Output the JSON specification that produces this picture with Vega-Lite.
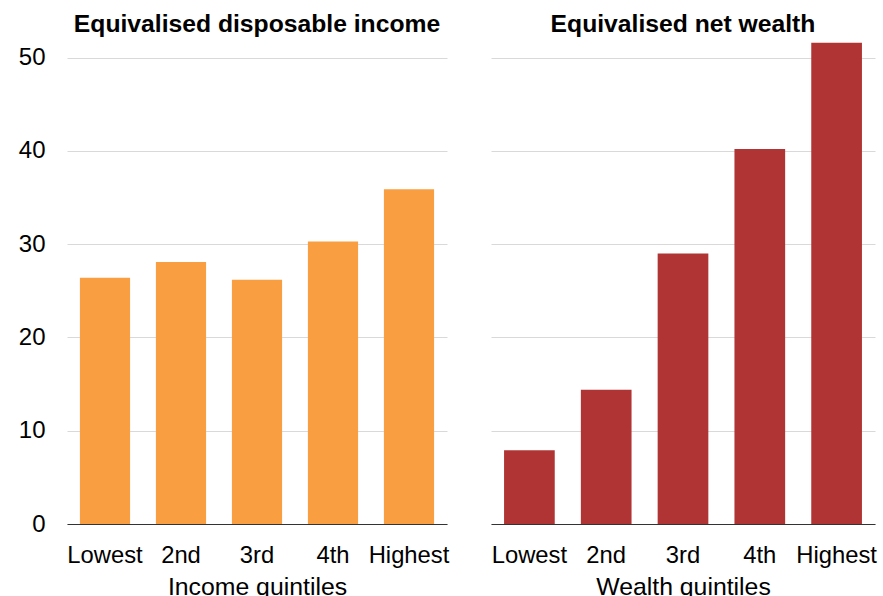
{
  "$schema": "https://vega.github.io/schema/vega-lite/v6.json",
  "background": "white",
  "padding": {"left": 18, "top": 12, "right": 5, "bottom": 0},
  "spacing": 44,
  "bounds": "flush",
  "config": {
    "font": "Liberation Sans",
    "view": {"stroke": null},
    "title": {"fontSize": 24.7, "fontWeight": "bold", "color": "#000000", "font": "Liberation Sans", "baseline": "alphabetic", "offset": 2},
    "axisX": {
      "labelFontSize": 23.8, "labelColor": "#000000", "labelAngle": 0, "labelPadding": 19,
      "domainColor": "#333333", "domainWidth": 1, "ticks": false, "grid": false,
      "titleFontSize": 24.8, "titleFontWeight": "normal", "titleColor": "#000000", "titlePadding": 8
    },
    "axisY": {
      "labelFontSize": 24, "labelColor": "#000000", "labelPadding": 22,
      "domain": false, "ticks": false, "grid": true, "gridColor": "#d9d9d9", "gridWidth": 1,
      "title": null
    }
  },
  "hconcat": [
    {
      "title": "Equivalised disposable income",
      "width": 380,
      "height": 485,
      "data": {"values": [
        {"quintile": "Lowest", "value": 26.4},
        {"quintile": "2nd", "value": 28.1},
        {"quintile": "3rd", "value": 26.2},
        {"quintile": "4th", "value": 30.3},
        {"quintile": "Highest", "value": 35.9}
      ]},
      "mark": {"type": "bar", "color": "#F99F41"},
      "encoding": {
        "x": {"field": "quintile", "type": "nominal", "sort": null,
              "scale": {"paddingInner": 0.34, "paddingOuter": 0.17},
              "axis": {"title": "Income quintiles"}},
        "y": {"field": "value", "type": "quantitative",
              "scale": {"domain": [0, 52], "nice": false},
              "axis": {"values": [0, 10, 20, 30, 40, 50]}}
      }
    },
    {
      "title": "Equivalised net wealth",
      "width": 384,
      "height": 485,
      "data": {"values": [
        {"quintile": "Lowest", "value": 7.9},
        {"quintile": "2nd", "value": 14.4},
        {"quintile": "3rd", "value": 29.0},
        {"quintile": "4th", "value": 40.2},
        {"quintile": "Highest", "value": 51.6}
      ]},
      "mark": {"type": "bar", "color": "#B13434"},
      "encoding": {
        "x": {"field": "quintile", "type": "nominal", "sort": null,
              "scale": {"paddingInner": 0.34, "paddingOuter": 0.17},
              "axis": {"title": "Wealth quintiles"}},
        "y": {"field": "value", "type": "quantitative",
              "scale": {"domain": [0, 52], "nice": false},
              "axis": {"labels": false, "values": [0, 10, 20, 30, 40, 50]}}
      }
    }
  ]
}
